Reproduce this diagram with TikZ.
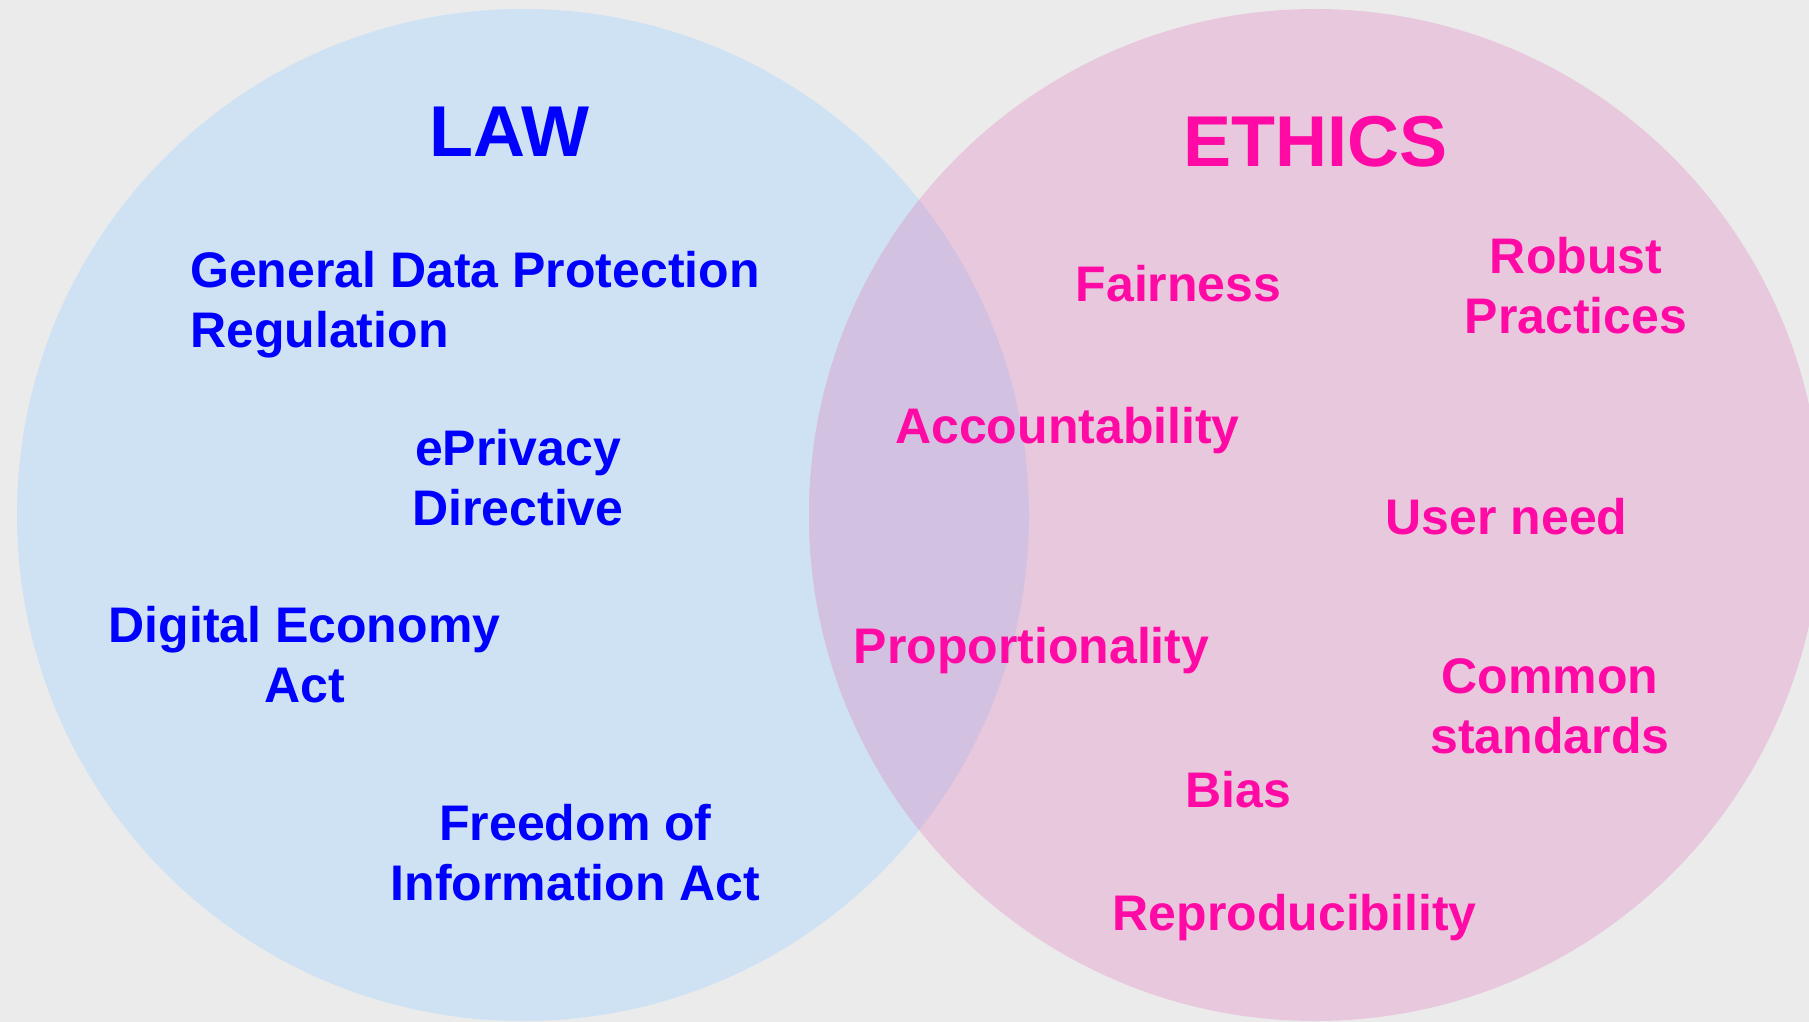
\documentclass[tikz,border=0pt]{standalone}
\usepackage{fontspec}
\setmainfont{Liberation Sans}
\usepackage{array}
\definecolor{bgc}{HTML}{EBEBEB}
\definecolor{lawc}{HTML}{CFE2F3}
\definecolor{ethc}{HTML}{E8C8DC}
\definecolor{bothc}{HTML}{D3C1E1}
\definecolor{lawtext}{HTML}{0000FF}
\definecolor{ethtext}{HTML}{FF0AA5}
\newcommand{\twoc}[2]{\begin{tabular}[t]{@{}c@{}}#1\\#2\end{tabular}}
\newcommand{\twol}[2]{\begin{tabular}[t]{@{}l@{}}#1\\#2\end{tabular}}
\tikzset{
  title/.style={inner sep=0pt, font=\fontsize{72}{80}\selectfont\bfseries, anchor=base},
  lawtitle/.style={title, text=lawtext},
  ethtitle/.style={title, text=ethtext},
  item/.style={inner sep=0pt, font=\fontsize{50}{60}\selectfont\bfseries},
  lawitem/.style={item, text=lawtext},
  ethitem/.style={item, text=ethtext}
}
\begin{document}
\begin{tikzpicture}[x=1pt,y=-1pt]
\fill[bgc] (0,0) rectangle (1809,1022);
\useasboundingbox (0,0) rectangle (1809,1022);
\fill[lawc] (523,515) circle[radius=506];
\fill[ethc] (1315,515) circle[radius=506];
\begin{scope}
\clip (523,515) circle[radius=506];
\fill[bothc] (1315,515) circle[radius=506];
\end{scope}
% titles
\node[lawtitle] (law) at (509.5,157) {LAW};
\node[ethtitle] (ethics) at (1315,166) {ETHICS};
% law items
\node[lawitem, anchor=base west] (gdpr) at (190,287) {\twol{General Data Protection}{Regulation}};
\node[lawitem, anchor=base] (eprivacy) at (518,465) {\twoc{ePrivacy}{Directive}};
\node[lawitem, anchor=base] (dea) at (304.5,642) {\twoc{Digital Economy}{Act}};
\node[lawitem, anchor=base] (foia) at (575.5,840) {\twoc{Freedom of}{Information Act}};
% ethics items
\node[ethitem, anchor=base west] (fair) at (1075.5,301) {Fairness};
\node[ethitem, anchor=base] (robust) at (1576,273) {\twoc{Robust}{Practices}};
\node[ethitem, anchor=base west] (acc) at (895,443) {Accountability};
\node[ethitem, anchor=base west] (user) at (1385.5,534) {User need};
\node[ethitem, anchor=base west] (prop) at (853.5,663.5) {Proportionality};
\node[ethitem, anchor=base] (common) at (1550,693) {\twoc{Common}{standards}};
\node[ethitem, anchor=base west] (bias) at (1185.5,807) {Bias};
\node[ethitem, anchor=base west] (repro) at (1112.5,930) {Reproducibility};
\end{tikzpicture}
\end{document}
